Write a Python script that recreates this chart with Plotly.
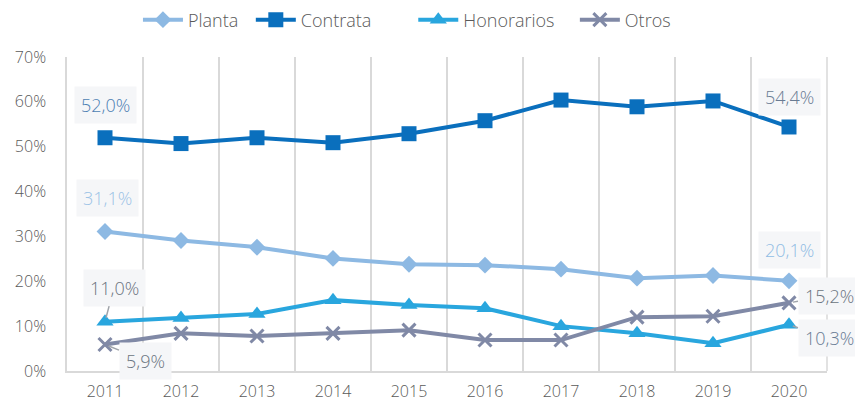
import plotly.graph_objects as go

years = ["2011", "2012", "2013", "2014", "2015", "2016", "2017", "2018", "2019", "2020"]
planta = [31.1, 29.1, 27.6, 25.1, 23.8, 23.6, 22.7, 20.7, 21.3, 20.1]
contrata = [52.0, 50.7, 52.0, 50.9, 52.9, 55.8, 60.4, 58.9, 60.2, 54.4]
honorarios = [11.0, 11.8, 12.7, 15.8, 14.7, 14.0, 10.0, 8.4, 6.2, 10.3]
otros = [5.9, 8.4, 7.8, 8.4, 9.1, 6.9, 6.9, 12.0, 12.2, 15.2]

FONT = "Open Sans"
series = [
    ("Planta", planta, "#8db9e3", "diamond", 13, "legend", 0.152),
    ("Contrata", contrata, "#0a6fbd", "square", 15, "legend2", 0.284),
    ("Honorarios", honorarios, "#29a6de", "triangle-up", 15, "legend3", 0.474),
    ("Otros", otros, "#8089a6", "x-thin", 13, "legend4", 0.663),
]

fig = go.Figure()
legends = {}
for name, vals, col, sym, size, leg, lx in series:
    marker = dict(symbol=sym, size=size, color=col)
    if sym == "x-thin":
        marker["line"] = dict(color=col, width=3)
    fig.add_trace(go.Scatter(
        x=years, y=[v / 100 for v in vals], name=name, mode="lines+markers",
        line=dict(color=col, width=4), marker=marker, cliponaxis=False,
        legend=leg,
    ))
    legends[leg] = dict(orientation="h", xref="container", x=lx, xanchor="left",
                        yref="container", y=0.97, yanchor="middle", itemwidth=40,
                        bgcolor="rgba(0,0,0,0)",
                        font=dict(size=18, color="#595959"))

def fmt(v):
    return f"{v:.1f}%".replace(".", ",")

# (series values, index, text color, ax, ay, show arrow)
labels = [
    (contrata, 0, "#4d7fb3", 0, -33, False),
    (contrata, 9, "#697b93", 0, -30, False),
    (planta, 0, "#9cc3e6", 2, -33, False),
    (planta, 9, "#90bce4", 0, -31, False),
    (honorarios, 0, "#6b7480", 9, -34, True),
    (otros, 0, "#6b7480", 40, 16, True),
    (otros, 9, "#6b7480", 40, -7, True),
    (honorarios, 9, "#697b93", 40, 13, True),
]
for vals, i, tcol, ax, ay, arrow in labels:
    fig.add_annotation(
        x=i, y=vals[i] / 100, xref="x", yref="y", text=fmt(vals[i]),
        showarrow=True, arrowhead=0, arrowwidth=1.5,
        arrowcolor="#a0a4aa" if arrow else "rgba(0,0,0,0)",
        ax=ax, ay=ay, axref="pixel", ayref="pixel", standoff=4 if arrow else 0,
        font=dict(family=FONT, size=18, color=tcol, weight=300),
        bgcolor="#f5f6f8", borderpad=6,
    )

fig.add_shape(type="line", xref="paper", yref="paper", x0=1, x1=1, y0=0, y1=1,
              line=dict(color="#d9d9d9", width=1.5), layer="below")

fig.update_layout(
    width=855, height=399,
    margin=dict(l=59, r=36, t=49, b=36, autoexpand=False),
    paper_bgcolor="white", plot_bgcolor="white",
    font=dict(family=FONT, size=15, color="#595959", weight=300),
    showlegend=True,
    xaxis=dict(type="category", range=[-0.5, 9.5], tickson="boundaries", showgrid=True,
               gridcolor="#d9d9d9", gridwidth=1.5, showline=True,
               linecolor="#d9d9d9", linewidth=1.5, ticks="",
               tickfont=dict(size=16, color="#595959"), automargin=False,
               ticklabelstandoff=5, zeroline=False),
    yaxis=dict(range=[0, 0.7], dtick=0.1, tickformat=".0%", showgrid=False,
               showline=True, linecolor="#d9d9d9", linewidth=1.5, ticks="",
               zeroline=False, ticklabelstandoff=16, automargin=False,
               tickfont=dict(size=16, color="#595959")),
    **legends,
)

fig.write_html("out.html")
